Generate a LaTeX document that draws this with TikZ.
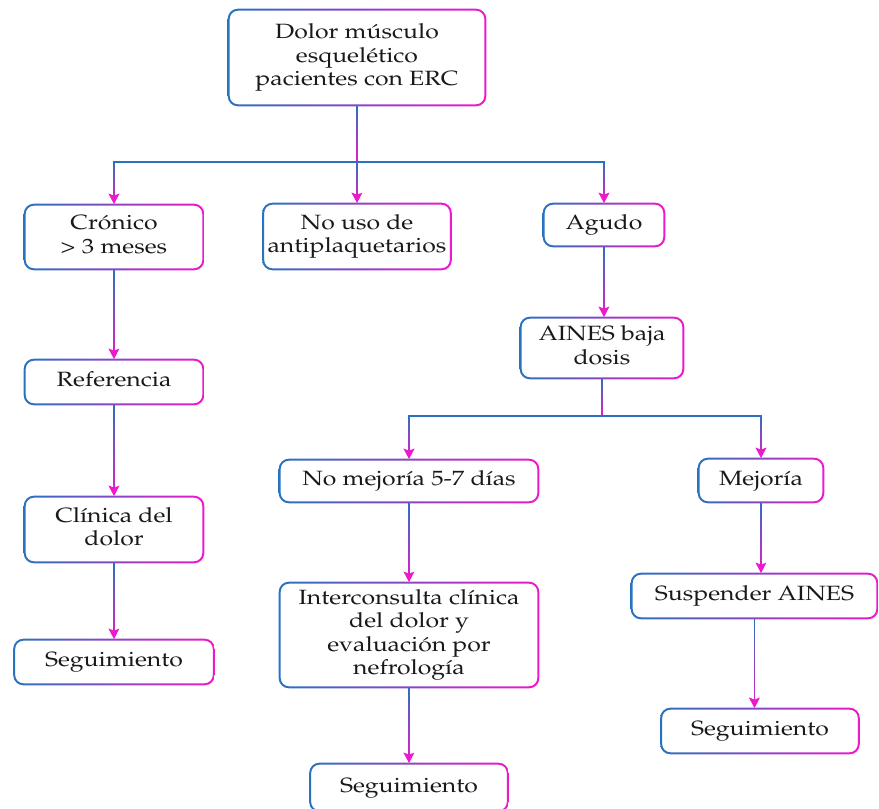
\documentclass[tikz,border=0pt]{standalone}
\usepackage[T1]{fontenc}
\usepackage{mathpazo}
\usepackage{graphicx}
\usepackage{tikz}
\usetikzlibrary{arrows.meta,fadings,positioning}
\usepackage{color}
\definecolor{bl}{RGB}{40,115,190}
\definecolor{mg}{RGB}{238,24,205}
\newcommand{\wide}[1]{\scalebox{1.2}[1]{\begin{tabular}{@{}c@{}}#1\end{tabular}}}

\begin{document}
\begin{tikzpicture}[x=0.75pt,y=-0.75pt]
\fontsize{15.5}{17.6}\selectfont
\tikzstyle{box}=[inner sep=0pt, align=center, text=black!90]
\tikzstyle{link}=[draw=bl, line width=1.1pt, -{Stealth[length=7.5pt,width=8pt,inset=1.5pt,color=mg]}, postaction={draw=mg, path fading=north}]
\useasboundingbox (0,0) rectangle (879,808);
% boxes
\node[box, minimum width=193.5pt, minimum height=72.75pt] (top) at (357,57.5) {\wide{Dolor músculo\\esquelético\\pacientes con ERC}};
\node[box, minimum width=135pt, minimum height=49.5pt] (cron) at (114,237) {\wide{Crónico\\> 3 meses}};
\node[box, minimum width=141.75pt, minimum height=50.25pt] (nouso) at (357,236.5) {\wide{No uso de\\antiplaquetarios}};
\node[box, minimum width=91.5pt, minimum height=33pt] (agudo) at (604,225) {\wide{Agudo}};
\node[box, minimum width=123pt, minimum height=46.5pt] (aines) at (602,348) {\wide{AINES baja\\dosis}};
\node[box, minimum width=135pt, minimum height=34.5pt] (ref) at (114,382) {\wide{Referencia}};
\node[box, minimum width=135pt, minimum height=50.25pt] (clin) at (114,529.5) {\wide{Clínica del\\dolor}};
\node[box, minimum width=150.75pt, minimum height=34.5pt] (seg1) at (114,662) {\wide{Seguimiento}};
\node[box, minimum width=195pt, minimum height=33pt] (nomej) at (409,481) {\wide{No mejoría 5-7 días}};
\node[box, minimum width=94.5pt, minimum height=33.75pt] (mej) at (761,480.5) {\wide{Mejoría}};
\node[box, minimum width=195pt, minimum height=79.5pt] (inter) at (409,635) {\wide{Interconsulta clínica\\del dolor y\\evaluación por\\nefrología}};
\node[box, minimum width=149.25pt, minimum height=36.75pt] (seg2) at (409,787.5) {\wide{Seguimiento}};
\node[box, minimum width=185.25pt, minimum height=34.5pt] (susp) at (754.5,596) {\wide{Suspender AINES}};
\node[box, minimum width=149.25pt, minimum height=34.5pt] (seg3) at (760,731) {\wide{Seguimiento}};
% gradient borders
\foreach \n in {top,cron,nouso,agudo,aines,ref,clin,seg1,nomej,mej,inter,seg2,susp,seg3}
    \shade[left color=bl, right color=mg, even odd rule, rounded corners=7.5pt]
        (\n.south west) rectangle (\n.north east)
        [rounded corners=6pt] ([shift={(1.5pt,1.5pt)}]\n.south west) rectangle ([shift={(-1.5pt,-1.5pt)}]\n.north east);
% connectors (the extra start point gives the fading some width)
\coordinate (j1) at (357,162);
\coordinate (j2) at (602,416);
\draw[link,-] ([xshift=-2pt]top.south) (top.south) -- (j1);
\draw[link] (j1) -| (cron.north);
\draw[link] ([xshift=-2pt]j1) (j1) -- (nouso.north);
\draw[link] (j1) -| (agudo.north);
\draw[link,-] ([xshift=-2pt]aines.south) (aines.south) -- (j2);
\draw[link] (j2) -| (nomej.north);
\draw[link] (j2) -| (mej.north);
\foreach \current/\next in {cron/ref,ref/clin,clin/seg1,agudo/aines,nomej/inter,inter/seg2,mej/susp,susp/seg3}
       {
        \draw[link] ([xshift=-2pt]\current.south) (\current.south) -- (\current.south |- \next.north);
       }
\end{tikzpicture}
\end{document}
